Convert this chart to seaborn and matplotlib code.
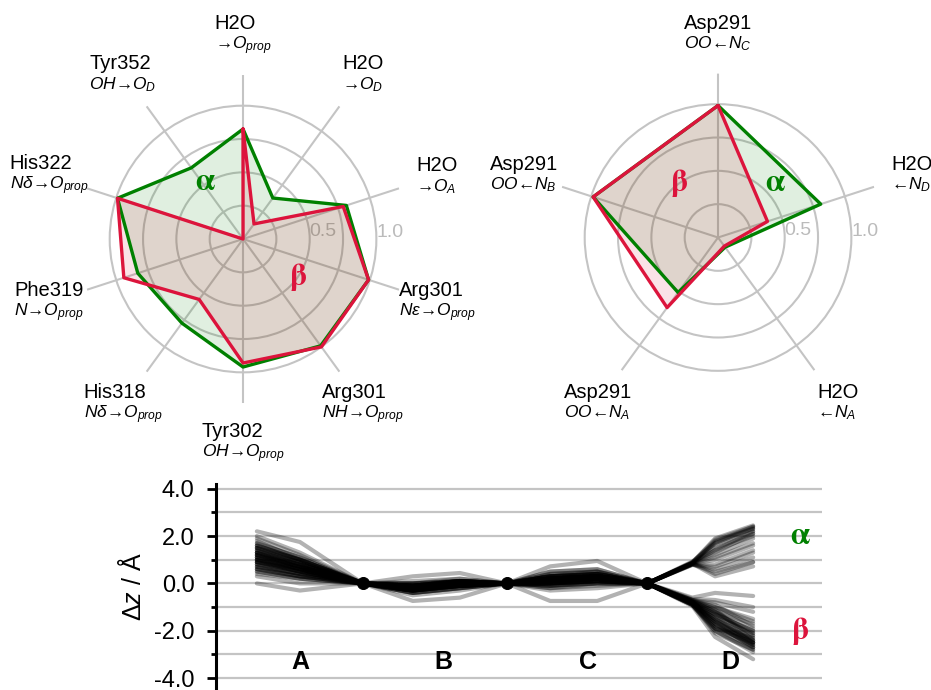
import numpy as np
import pandas as pd
import matplotlib
matplotlib.use("Agg")
import matplotlib.pyplot as plt
import seaborn as sns
from matplotlib.offsetbox import TextArea, VPacker, AnnotationBbox

sns.set_style("white")
plt.rcParams['font.family'] = ['Liberation Sans', 'DejaVu Sans']
plt.rcParams['text.color'] = 'black'
plt.rcParams['axes.labelcolor'] = 'black'
plt.rcParams['ytick.color'] = 'black'
plt.rcParams['mathtext.fontset'] = 'custom'
plt.rcParams['mathtext.rm'] = 'Liberation Sans'
plt.rcParams['mathtext.it'] = 'Liberation Sans:italic'
plt.rcParams['mathtext.bf'] = 'Liberation Sans:bold'

# ---- left radar: H-bonds to the propionates (clockwise from top)
left_names = ["H2O", "H2O", "H2O", "Arg301", "Arg301", "Tyr302",
              "His318", "Phe319", "His322", "Tyr352"]
left_subs = [r"$→O_{prop}$", r"$→O_{D}$", r"$→O_{A}$",
             r"$N\epsilon→O_{prop}$", r"$NH→O_{prop}$",
             r"$OH→O_{prop}$", r"$N\delta→O_{prop}$",
             r"$N→O_{prop}$", r"$N\delta→O_{prop}$",
             r"$OH→O_{D}$"]
left_alpha = [0.825, 0.38, 0.815, 0.99, 0.99, 0.96, 0.78, 0.83, 0.99, 0.66]
left_beta = [0.825, 0.14, 0.79, 0.99, 1.0, 0.93, 0.56, 0.94, 0.99, 0.0]

# ---- right radar
right_names = ["Asp291", "H2O", "H2O", "Asp291", "Asp291"]
right_subs = [r"$OO←N_{C}$", r"$←N_{D}$", r"$←N_{A}$",
              r"$OO←N_{A}$", r"$OO←N_{B}$"]
right_alpha = [0.99, 0.81, 0.09, 0.51, 0.985]
right_beta = [0.99, 0.39, 0.08, 0.65, 0.985]

# ---- bottom: out-of-plane displacement traces
# x positions: A1, A2, dot, B1, B2, dot, C1, C2, dot, D0, D1, D2
x_pos = [0.0, 0.905, 2.23, 3.28, 4.27, 5.26, 6.17, 7.16, 8.21, 9.16, 9.64, 10.44]
dot_x = [2.23, 5.26, 8.21]
ring_labels = ["A", "B", "C", "D"]
ring_label_x = [0.905, 3.92, 6.97, 9.96]
# values: A1, A2, B1, B2, C1, C2, D0, D1, D2
alpha_traces = [
    [1.9, 1.2, -0.1, 0.1, 0.2, 0.3, 0.88, 1.9, 2.45],
    [1.5, 0.9, -0.2, 0.0, 0.1, 0.2, 0.85, 1.8, 2.3],
    [1.2, 0.7, -0.3, -0.1, 0.3, 0.4, 0.82, 1.6, 2.2],
    [1.0, 0.5, 0.0, 0.1, 0.0, 0.1, 0.85, 1.2, 1.9],
    [0.7, 0.4, -0.2, 0.0, -0.1, 0.0, 0.8, 1.0, 1.6],
    [1.7, 1.1, 0.1, 0.2, 0.4, 0.5, 0.9, 1.4, 2.0],
    [0.5, 0.2, -0.4, -0.2, 0.2, 0.3, 0.78, 0.7, 1.3],
    [1.3, 0.8, -0.1, 0.0, 0.5, 0.6, 0.86, 0.4, 0.9],
    [0.9, 0.6, -0.3, -0.1, 0.0, 0.2, 0.84, 0.3, 0.72],
    [2.2, 1.75, 0.0, 0.1, 0.72, 0.95, 0.92, 1.7, 2.35],
    [1.4, 0.8, -0.2, 0.0, 0.2, 0.3, 0.85, 1.5, 2.1],
    [1.1, 0.6, -0.1, 0.1, 0.1, 0.2, 0.83, 1.1, 1.7],
    [0.8, 0.5, -0.2, -0.1, 0.3, 0.4, 0.8, 0.8, 1.4],
    [1.6, 1.0, 0.0, 0.1, 0.0, 0.1, 0.87, 1.75, 2.4],
    [1.0, 0.7, -0.3, 0.0, 0.2, 0.3, 0.82, 0.6, 1.1],
    [1.2, 0.6, -0.1, 0.0, 0.1, 0.3, 0.84, 1.3, 2.1],
    [1.3, 0.7, -0.2, 0.0, 0.2, 0.4, 0.86, 1.7, 2.3],
    [0.9, 0.5, -0.1, 0.1, 0.1, 0.2, 0.84, 1.4, 2.2],
    [1.5, 1.0, -0.2, -0.1, 0.3, 0.3, 0.88, 1.85, 2.4],
    [0.6, 0.3, -0.3, -0.1, 0.0, 0.1, 0.8, 0.5, 0.9],
]
beta_traces = [
    [1.8, 1.0, -0.2, 0.0, 0.1, 0.2, -0.7, -0.9, -1.8],
    [1.6, 1.0, -0.1, 0.1, 0.2, 0.3, -0.75, -1.2, -2.2],
    [1.4, 0.8, -0.3, -0.1, 0.0, 0.1, -0.8, -1.5, -2.5],
    [1.1, 0.6, -0.2, 0.0, 0.3, 0.4, -0.85, -1.7, -2.7],
    [0.9, 0.5, -0.4, -0.2, 0.1, 0.2, -0.9, -2.0, -2.8],
    [0.6, 0.3, -0.5, -0.3, -0.2, -0.1, -0.95, -2.26, -3.2],
    [0.3, 0.0, -0.1, 0.0, 0.4, 0.5, -0.6, -0.4, -0.53],
    [1.2, 0.7, -0.74, -0.6, -0.1, 0.0, -0.7, -0.8, -1.2],
    [0.8, 0.4, 0.3, 0.44, 0.2, 0.3, -0.75, -1.0, -1.5],
    [1.0, 0.6, -0.2, -0.1, -0.74, -0.74, -0.8, -1.3, -2.0],
    [0.0, -0.3, -0.2, 0.0, 0.0, 0.1, -0.7, -1.1, -2.4],
    [1.5, 0.9, -0.1, 0.1, 0.3, 0.5, -0.85, -1.6, -2.6],
    [0.4, 0.2, -0.3, -0.1, -0.3, -0.2, -0.9, -1.9, -2.5],
    [2.0, 1.3, 0.0, 0.2, 0.5, 0.6, -0.8, -1.4, -2.1],
    [1.3, 0.9, -0.4, -0.2, -0.2, 0.0, -0.75, -1.2, -1.7],
    [0.7, 0.3, -0.2, 0.0, 0.1, 0.3, -0.65, -0.7, -1.0],
    [1.3, 0.8, -0.2, 0.0, 0.1, 0.2, -0.8, -1.5, -2.3],
    [1.0, 0.5, -0.3, -0.1, 0.2, 0.3, -0.85, -1.6, -2.4],
    [0.8, 0.4, -0.1, 0.0, 0.0, 0.1, -0.8, -1.3, -2.2],
    [1.2, 0.7, -0.2, 0.1, 0.2, 0.3, -0.9, -1.8, -2.6],
    [1.5, 1.0, -0.3, -0.1, 0.1, 0.2, -0.75, -1.1, -1.9],
    [0.6, 0.3, -0.1, 0.0, 0.3, 0.4, -0.85, -1.4, -2.5],
    [1.1, 0.7, -0.2, 0.0, -0.1, 0.1, -0.8, -1.7, -2.7],
    [0.9, 0.6, -0.3, -0.1, 0.2, 0.2, -0.7, -1.0, -1.6],
    [1.7, 1.1, -0.1, 0.1, 0.3, 0.4, -0.9, -2.0, -2.9],
    [1.4, 0.9, -0.2, 0.0, 0.0, 0.2, -0.85, -1.9, -2.3],
    [1.2, 0.8, -0.3, -0.1, 0.1, 0.3, -0.8, -1.6, -2.5],
    [0.9, 0.5, -0.2, 0.0, 0.2, 0.3, -0.85, -1.8, -2.6],
    [1.6, 1.0, -0.1, 0.1, 0.0, 0.1, -0.8, -1.3, -2.0],
    [0.5, 0.2, -0.2, 0.0, 0.1, 0.2, -0.9, -2.1, -2.8],
    [1.0, 0.6, -0.4, -0.2, 0.3, 0.4, -0.75, -1.2, -2.1],
    [1.3, 0.7, -0.1, 0.1, 0.1, 0.2, -0.9, -1.9, -2.7],
    [0.7, 0.4, -0.2, -0.1, -0.1, 0.0, -0.85, -1.5, -2.4],
    [1.1, 0.8, -0.3, 0.0, 0.2, 0.3, -0.8, -1.7, -2.5],
]

GREEN = "#008000"
RED = "#dc143c"
GRID = "#c4c4c4"

fig = plt.figure(figsize=(9.31, 6.9), dpi=100)


def radar(rect, names, subs, a_vals, b_vals, greek):
    ax = fig.add_axes(rect, projection="polar")
    n = len(names)
    th = np.linspace(0, 2 * np.pi, n, endpoint=False)
    ax.set_theta_offset(np.pi / 2)
    ax.set_theta_direction(-1)
    thc = np.append(th, th[0])
    a = np.append(a_vals, a_vals[0])
    b = np.append(b_vals, b_vals[0])
    ax.fill(thc, a, color=GREEN, alpha=0.12, lw=0)
    ax.fill(thc, b, color=RED, alpha=0.12, lw=0)
    ax.plot(thc, a, color=GREEN, lw=2.4)
    ax.plot(thc, b, color=RED, lw=2.4)
    ax.set_ylim(0, 1.23)
    ax.set_xticks(th)
    ax.set_xticklabels([])
    ax.set_yticks([0.25, 0.5, 0.75, 1.0])
    ax.set_yticklabels(["", "0.5", "", "1.0"], color="#bbbbbb", fontsize=14)
    ax.set_rlabel_position(91)
    ax.xaxis.grid(True, color=GRID, lw=1.5)
    ax.yaxis.grid(True, color=GRID, lw=1.5)
    ax.spines["polar"].set_visible(False)
    for t, nm, sb in zip(th, names, subs):
        box = VPacker(children=[TextArea(nm, textprops=dict(fontsize=14.5, color="black")),
                                TextArea(sb, textprops=dict(fontsize=12.5, color="black"))],
                      align="left", pad=0, sep=1)
        ab = AnnotationBbox(box, (t, 1.53), xycoords="data", frameon=False,
                            box_alignment=(0.5, 0.5), annotation_clip=False, pad=0)
        ax.add_artist(ab)
    for txt, deg, r, col in greek:
        ax.text(np.deg2rad(deg), r, txt, color=col, fontsize=22, fontweight="bold",
                family="STIXGeneral", ha="center", va="center")
    return ax


radar([0.0849, 0.4159, 0.3523, 0.4754], left_names, left_subs, left_alpha, left_beta,
      [("α", 326, 0.51, GREEN), ("β", 125, 0.50, RED)])
radar([0.5951, 0.4181, 0.3523, 0.4754], right_names, right_subs, right_alpha, right_beta,
      [("β", 324, 0.50, RED), ("α", 46.5, 0.59, GREEN)])

# ---- bottom panel
rows = []
for i, tr in enumerate(alpha_traces + beta_traces):
    y = [tr[0], tr[1], 0.0, tr[2], tr[3], 0.0, tr[4], tr[5], 0.0, tr[6], tr[7], tr[8]]
    for xx, yy in zip(x_pos, y):
        rows.append({"trace": i, "x": xx, "dz": yy})
df = pd.DataFrame(rows)

ax3 = fig.add_axes([0.232, 0.0, 0.651, 0.2986])
sns.lineplot(data=df, x="x", y="dz", units="trace", estimator=None, sort=False,
             color="black", alpha=0.3, lw=3, ax=ax3, legend=False)
sns.scatterplot(x=dot_x, y=[0.0] * len(dot_x), color="black", s=75, zorder=5,
                ax=ax3, legend=False, edgecolor="black")
ax3.set_xlim(-0.86, 11.89)
ax3.set_ylim(-4.5, 4.2)
ax3.set_yticks([-4, -2, 0, 2, 4])
ax3.set_yticklabels(["-4.0", "-2.0", "0.0", "2.0", "4.0"], fontsize=17)
ax3.set_yticks([-3, -1, 1, 3], minor=True)
ax3.tick_params(axis="y", which="major", direction="out", length=6.5, width=2,
                left=True, pad=9, colors="black")
ax3.tick_params(axis="y", which="minor", direction="out", length=3.5, width=2, left=True)
ax3.set_xticks([])
ax3.yaxis.grid(True, which="both", color=GRID, lw=1.6)
ax3.set_axisbelow(True)
for s in ["top", "right", "bottom"]:
    ax3.spines[s].set_visible(False)
ax3.spines["left"].set_linewidth(2.2)
ax3.spines["left"].set_color("black")
ax3.set_xlabel("")
ax3.set_ylabel(r"$\Delta z$ / Å", fontsize=18, labelpad=6)
for lab, lx in zip(ring_labels, ring_label_x):
    ax3.text(lx, -3.3, lab, fontsize=18, fontweight="bold", ha="center", va="center")
ax3.text(11.43, 2.0, "α", color=GREEN, fontsize=22, fontweight="bold",
         family="STIXGeneral", ha="center", va="center")
ax3.text(11.43, -2.0, "β", color=RED, fontsize=22, fontweight="bold",
         family="STIXGeneral", ha="center", va="center")

fig.savefig("out.png", dpi=100)
